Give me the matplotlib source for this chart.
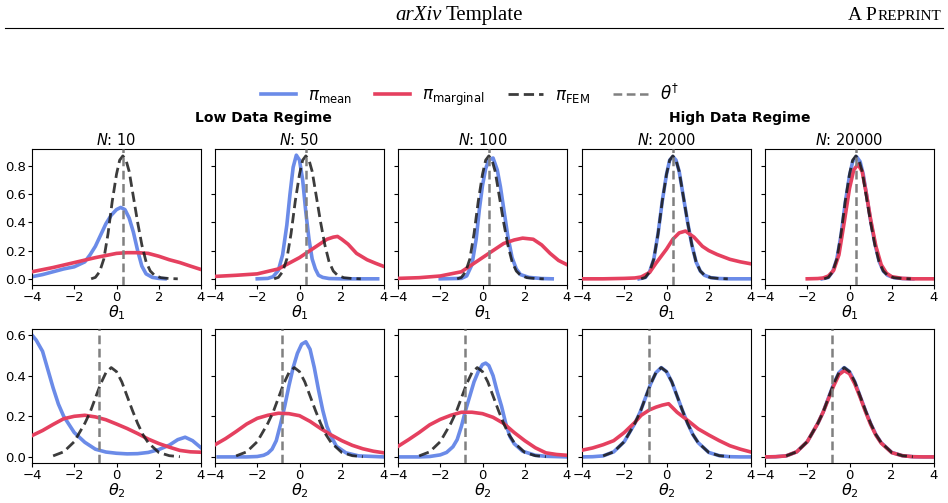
import matplotlib
matplotlib.use("Agg")
import matplotlib.pyplot as plt
from matplotlib.lines import Line2D

# ---------------- data ----------------
titles = ["$N$: 10", "$N$: 50", "$N$: 100", "$N$: 2000", "$N$: 20000"]
theta_dagger = [0.32, -0.83]

# reference FEM posterior (same in all panels)
fem1_x = [-1.2, -1.0, -0.8, -0.6, -0.4, -0.2, 0.0, 0.15, 0.3, 0.45, 0.6, 0.8, 1.0, 1.2, 1.4, 1.6, 1.8, 2.1, 2.5, 2.9]
fem1_y = [0.0, 0.01, 0.05, 0.14, 0.32, 0.55, 0.74, 0.84, 0.87, 0.84, 0.76, 0.58, 0.40, 0.24, 0.12, 0.055, 0.025, 0.008, 0.002, 0.0]
fem2_x = [-3.0, -2.5, -2.0, -1.5, -1.25, -1.0, -0.75, -0.5, -0.25, 0.0, 0.25, 0.5, 0.75, 1.0, 1.25, 1.5, 2.0, 2.5, 3.0]
fem2_y = [0.005, 0.025, 0.075, 0.165, 0.22, 0.29, 0.36, 0.415, 0.44, 0.42, 0.37, 0.30, 0.23, 0.165, 0.11, 0.07, 0.022, 0.006, 0.001]

# theta_1 row
mean1_N10_x = [-4, -3.5, -3, -2.5, -2, -1.5, -1.25, -1.0, -0.75, -0.5, -0.25, 0.0, 0.2, 0.4, 0.6, 0.8, 1.0, 1.2, 1.4, 1.7, 2.0, 2.3]
mean1_N10_y = [0.015, 0.03, 0.05, 0.07, 0.085, 0.12, 0.17, 0.23, 0.31, 0.39, 0.45, 0.49, 0.505, 0.49, 0.43, 0.33, 0.2, 0.09, 0.035, 0.01, 0.003, 0.0]
marg1_N10_x = [-4, -3, -2, -1, 0, 0.5, 1, 1.5, 2, 2.5, 3, 3.5, 4]
marg1_N10_y = [0.05, 0.08, 0.115, 0.15, 0.18, 0.185, 0.185, 0.18, 0.16, 0.135, 0.115, 0.09, 0.066]

mean1_N50_x = [-2.0, -1.5, -1.25, -1.0, -0.8, -0.6, -0.45, -0.3, -0.15, 0.0, 0.15, 0.3, 0.45, 0.6, 0.75, 0.9, 1.1, 1.4, 2.0, 3.0, 3.7]
mean1_N50_y = [0.0, 0.003, 0.015, 0.06, 0.17, 0.38, 0.6, 0.79, 0.875, 0.84, 0.7, 0.47, 0.28, 0.14, 0.07, 0.025, 0.01, 0.002, 0.0, 0.0, 0.0]
marg1_N50_x = [-4, -3, -2, -1, -0.5, 0, 0.5, 1.0, 1.3, 1.6, 1.8, 2.0, 2.3, 2.7, 3.2, 3.6, 4.0]
marg1_N50_y = [0.017, 0.025, 0.035, 0.07, 0.11, 0.15, 0.2, 0.25, 0.28, 0.295, 0.3, 0.28, 0.245, 0.18, 0.135, 0.11, 0.087]

mean1_N100_x = [-2.0, -1.0, -0.75, -0.5, -0.3, -0.15, 0.0, 0.15, 0.3, 0.5, 0.7, 0.85, 1.0, 1.2, 1.4, 1.6, 1.8, 2.2, 2.8, 3.3]
mean1_N100_y = [0.0, 0.003, 0.02, 0.1, 0.28, 0.49, 0.66, 0.78, 0.84, 0.855, 0.77, 0.65, 0.5, 0.3, 0.15, 0.07, 0.03, 0.01, 0.002, 0.0]
marg1_N100_x = [-4, -3, -2, -1, -0.5, 0, 0.5, 1.0, 1.5, 1.9, 2.4, 2.8, 3.2, 3.6, 4.0]
marg1_N100_y = [0.003, 0.008, 0.02, 0.05, 0.1, 0.15, 0.2, 0.25, 0.275, 0.288, 0.28, 0.24, 0.18, 0.13, 0.1]

mean1_N2000_x = [-1.3, -1.0, -0.8, -0.6, -0.4, -0.2, 0.0, 0.15, 0.3, 0.45, 0.6, 0.8, 1.0, 1.2, 1.4, 1.6, 1.8, 2.1, 2.5, 3.0, 4.0]
mean1_N2000_y = [0.0, 0.01, 0.05, 0.14, 0.32, 0.55, 0.74, 0.84, 0.865, 0.84, 0.76, 0.58, 0.40, 0.24, 0.12, 0.055, 0.025, 0.008, 0.002, 0.0, 0.0]
marg1_N2000_x = [-4, -3, -2, -1.5, -1.2, -0.8, -0.5, -0.2, 0.0, 0.3, 0.6, 0.9, 1.3, 1.7, 2.0, 2.4, 3.0, 3.5, 4.0]
marg1_N2000_y = [0.0, 0.0, 0.003, 0.006, 0.013, 0.045, 0.11, 0.17, 0.21, 0.28, 0.325, 0.338, 0.295, 0.23, 0.2, 0.172, 0.138, 0.12, 0.106]

mean1_N20000_x = [-1.3, -1.0, -0.8, -0.6, -0.4, -0.2, 0.0, 0.15, 0.33, 0.5, 0.65, 0.8, 1.0, 1.2, 1.4, 1.6, 1.8, 2.1, 2.5, 3.0]
mean1_N20000_y = [0.0, 0.01, 0.05, 0.14, 0.31, 0.54, 0.73, 0.83, 0.865, 0.83, 0.74, 0.6, 0.41, 0.25, 0.125, 0.055, 0.025, 0.008, 0.002, 0.0]
marg1_N20000_x = [-2, -1.5, -1.25, -1.0, -0.75, -0.5, -0.25, 0.0, 0.2, 0.4, 0.6, 0.8, 1.0, 1.25, 1.5, 1.75, 2.0, 2.5, 3.0, 4.0]
marg1_N20000_y = [0.0, 0.002, 0.006, 0.02, 0.06, 0.17, 0.4, 0.64, 0.77, 0.81, 0.76, 0.6, 0.42, 0.23, 0.1, 0.04, 0.015, 0.003, 0.0, 0.0]

# theta_2 row
mean2_N10_x = [-4, -3.8, -3.5, -3.25, -3.0, -2.75, -2.5, -2.0, -1.5, -1.0, -0.5, 0.0, 0.5, 1.0, 1.5, 2.0, 2.5, 2.9, 3.25, 3.6, 4.0]
mean2_N10_y = [0.6, 0.575, 0.52, 0.43, 0.34, 0.26, 0.2, 0.12, 0.072, 0.038, 0.024, 0.018, 0.015, 0.016, 0.022, 0.036, 0.058, 0.085, 0.097, 0.08, 0.045]
marg2_N10_x = [-4, -3.5, -3, -2.5, -2, -1.5, -1, -0.5, 0, 0.5, 1, 1.5, 2, 2.5, 3, 3.5, 4]
marg2_N10_y = [0.105, 0.13, 0.16, 0.188, 0.2, 0.205, 0.197, 0.183, 0.162, 0.14, 0.115, 0.088, 0.066, 0.048, 0.032, 0.025, 0.023]

mean2_N50_x = [-3.85, -2.5, -2.0, -1.7, -1.5, -1.3, -1.1, -0.9, -0.7, -0.5, -0.3, -0.1, 0.1, 0.3, 0.5, 0.7, 0.9, 1.1, 1.3, 1.5, 1.75, 2.2, 2.8, 4.0]
mean2_N50_y = [0.0, 0.0, 0.002, 0.008, 0.018, 0.038, 0.08, 0.16, 0.25, 0.35, 0.44, 0.51, 0.555, 0.567, 0.53, 0.44, 0.33, 0.23, 0.15, 0.1, 0.052, 0.02, 0.005, 0.0]
marg2_N50_x = [-4, -3.5, -3, -2.5, -2, -1.5, -1, -0.5, 0, 0.5, 1.0, 1.5, 2.0, 2.5, 3.0, 3.5, 4.0]
marg2_N50_y = [0.06, 0.09, 0.125, 0.162, 0.19, 0.205, 0.215, 0.213, 0.203, 0.175, 0.14, 0.108, 0.08, 0.057, 0.04, 0.028, 0.02]

mean2_N100_x = [-4, -3, -2.5, -2.0, -1.7, -1.4, -1.2, -1.0, -0.8, -0.6, -0.4, -0.2, 0.0, 0.15, 0.3, 0.5, 0.7, 0.9, 1.1, 1.3, 1.5, 1.9, 2.5, 3.0, 4.0]
mean2_N100_y = [0.0, 0.0, 0.002, 0.01, 0.022, 0.05, 0.085, 0.15, 0.23, 0.3, 0.37, 0.42, 0.455, 0.462, 0.45, 0.4, 0.32, 0.25, 0.165, 0.1, 0.065, 0.028, 0.008, 0.003, 0.0]
marg2_N100_x = [-4, -3.5, -3, -2.5, -2, -1.5, -1, -0.5, 0, 0.5, 1.0, 1.5, 2.0, 2.5, 3.0, 3.5, 4.0]
marg2_N100_y = [0.052, 0.085, 0.12, 0.158, 0.185, 0.205, 0.22, 0.22, 0.213, 0.195, 0.165, 0.12, 0.08, 0.045, 0.02, 0.012, 0.008]

mean2_N2000_x = [-4, -3.5, -3.0, -2.5, -2.0, -1.5, -1.25, -1.0, -0.75, -0.5, -0.25, 0.0, 0.25, 0.5, 0.75, 1.0, 1.25, 1.5, 2.0, 2.5, 3.0, 3.5, 4.0]
mean2_N2000_y = [0.0, 0.001, 0.005, 0.025, 0.075, 0.165, 0.22, 0.29, 0.36, 0.415, 0.44, 0.42, 0.37, 0.30, 0.23, 0.165, 0.11, 0.07, 0.022, 0.006, 0.001, 0.0, 0.0]
marg2_N2000_x = [-4, -3.5, -3, -2.5, -2, -1.5, -1.2, -0.8, -0.5, -0.2, 0.1, 0.5, 1.0, 1.5, 2.0, 2.5, 3.0, 3.5, 4.0]
marg2_N2000_y = [0.033, 0.044, 0.06, 0.08, 0.12, 0.17, 0.205, 0.232, 0.245, 0.255, 0.262, 0.22, 0.18, 0.138, 0.108, 0.08, 0.055, 0.038, 0.024]

mean2_N20000_x = [-4, -3.5, -3.0, -2.5, -2.0, -1.5, -1.25, -1.0, -0.75, -0.5, -0.25, 0.0, 0.25, 0.5, 0.75, 1.0, 1.25, 1.5, 2.0, 2.5, 3.0, 3.5, 4.0]
mean2_N20000_y = [0.0, 0.001, 0.005, 0.025, 0.075, 0.165, 0.22, 0.29, 0.36, 0.415, 0.44, 0.42, 0.37, 0.30, 0.23, 0.165, 0.11, 0.07, 0.022, 0.006, 0.001, 0.0, 0.0]
marg2_N20000_x = [-4, -3.5, -3.0, -2.5, -2.0, -1.5, -1.25, -1.0, -0.75, -0.5, -0.25, 0.0, 0.25, 0.5, 0.75, 1.0, 1.25, 1.5, 2.0, 2.5, 3.0, 3.5, 4.0]
marg2_N20000_y = [0.0, 0.001, 0.005, 0.025, 0.075, 0.165, 0.22, 0.285, 0.35, 0.405, 0.425, 0.41, 0.36, 0.295, 0.225, 0.16, 0.107, 0.068, 0.021, 0.006, 0.001, 0.0, 0.0]

row1_mean = [(mean1_N10_x, mean1_N10_y), (mean1_N50_x, mean1_N50_y), (mean1_N100_x, mean1_N100_y),
             (mean1_N2000_x, mean1_N2000_y), (mean1_N20000_x, mean1_N20000_y)]
row1_marg = [(marg1_N10_x, marg1_N10_y), (marg1_N50_x, marg1_N50_y), (marg1_N100_x, marg1_N100_y),
             (marg1_N2000_x, marg1_N2000_y), (marg1_N20000_x, marg1_N20000_y)]
row2_mean = [(mean2_N10_x, mean2_N10_y), (mean2_N50_x, mean2_N50_y), (mean2_N100_x, mean2_N100_y),
             (mean2_N2000_x, mean2_N2000_y), (mean2_N20000_x, mean2_N20000_y)]
row2_marg = [(marg2_N10_x, marg2_N10_y), (marg2_N50_x, marg2_N50_y), (marg2_N100_x, marg2_N100_y),
             (marg2_N2000_x, marg2_N2000_y), (marg2_N20000_x, marg2_N20000_y)]

# ---------------- style ----------------
C_MEAN = "#6B8BE8"
C_MARG = "#E5405F"
C_FEM = "#1a1a1a"
C_TRUE = "#808080"

W, H = 948, 503
fig = plt.figure(figsize=(W / 100, H / 100), dpi=100)

lefts_px = [32, 215, 398, 582, 765]
width_px = 169
rows = [(149, 285), (329, 463)]

axes = [[None] * 5 for _ in range(2)]
for r, (top, bot) in enumerate(rows):
    for c, lp in enumerate(lefts_px):
        share = axes[r][0] if c > 0 else None
        ax = fig.add_axes([lp / W, 1 - bot / H, width_px / W, (bot - top) / H], sharey=share)
        axes[r][c] = ax

for r in range(2):
    means = row1_mean if r == 0 else row2_mean
    margs = row1_marg if r == 0 else row2_marg
    fx, fy = (fem1_x, fem1_y) if r == 0 else (fem2_x, fem2_y)
    for c in range(5):
        ax = axes[r][c]
        ax.plot(*means[c], color=C_MEAN, lw=2.6, zorder=2)
        ax.plot(*margs[c], color=C_MARG, lw=2.6, zorder=3)
        ax.plot(fx, fy, color=C_FEM, lw=2.0, ls=(0, (3.7, 1.8)), alpha=0.85, zorder=4)
        ax.axvline(theta_dagger[r], color=C_TRUE, lw=1.8, ls=(0, (3.5, 1.8)), zorder=5)
        ax.set_xlim(-4, 4)
        ax.set_xticks([-4, -2, 0, 2, 4])
        ax.tick_params(labelsize=9.5, length=3, pad=1)
        ax.set_xlabel(r"$\theta_%d$" % (r + 1), fontsize=11.5, labelpad=-0.5)
        if c > 0:
            ax.tick_params(labelleft=False)
        if r == 0:
            ax.set_title(titles[c], fontsize=10.5, pad=3)

axes[0][0].set_yticks([0.0, 0.2, 0.4, 0.6, 0.8])
axes[1][0].set_yticks([0.0, 0.2, 0.4, 0.6])

# regime labels
fig.text(263 / W, 1 - 118 / H, "Low Data Regime", ha="center", va="center", fontsize=10, fontweight="bold")
fig.text(740 / W, 1 - 118 / H, "High Data Regime", ha="center", va="center", fontsize=10, fontweight="bold")

# legend
handles = [Line2D([], [], color=C_MEAN, lw=2.6),
           Line2D([], [], color=C_MARG, lw=2.6),
           Line2D([], [], color=C_FEM, lw=2.0, ls=(0, (3.7, 1.8)), alpha=0.85),
           Line2D([], [], color=C_TRUE, lw=1.8, ls=(0, (3.5, 1.8)))]
labels = [r"$\pi_{\mathrm{mean}}$", r"$\pi_{\mathrm{marginal}}$", r"$\pi_{\mathrm{FEM}}$", r"$\theta^{\dagger}$"]
fig.legend(handles, labels, loc="center", bbox_to_anchor=(470 / W, 1 - 96 / H), ncol=4, frameon=False,
           fontsize=12, handlelength=2.1, columnspacing=1.35, handletextpad=0.75)

# page header
serif = "Liberation Serif"
fig.add_artist(Line2D([5 / W, 943 / W], [1 - 27.5 / H] * 2, color="black", lw=0.8))
t_a = fig.text(442 / W, 1 - 20 / H, "arXiv", ha="right", va="baseline", fontsize=15,
               family=serif, style="italic")
t_b = fig.text(446 / W, 1 - 20 / H, "Template", ha="left", va="baseline", fontsize=15, family=serif)
t_r = fig.text(941 / W, 1 - 20 / H, "REPRINT", ha="right", va="baseline", fontsize=11, family=serif)
renderer = fig.canvas.get_renderer()
bb = t_r.get_window_extent(renderer)
fig.text(bb.x0 / W, 1 - 20 / H, "A P", ha="right", va="baseline", fontsize=14, family=serif)

fig.savefig("out.png", dpi=100)
